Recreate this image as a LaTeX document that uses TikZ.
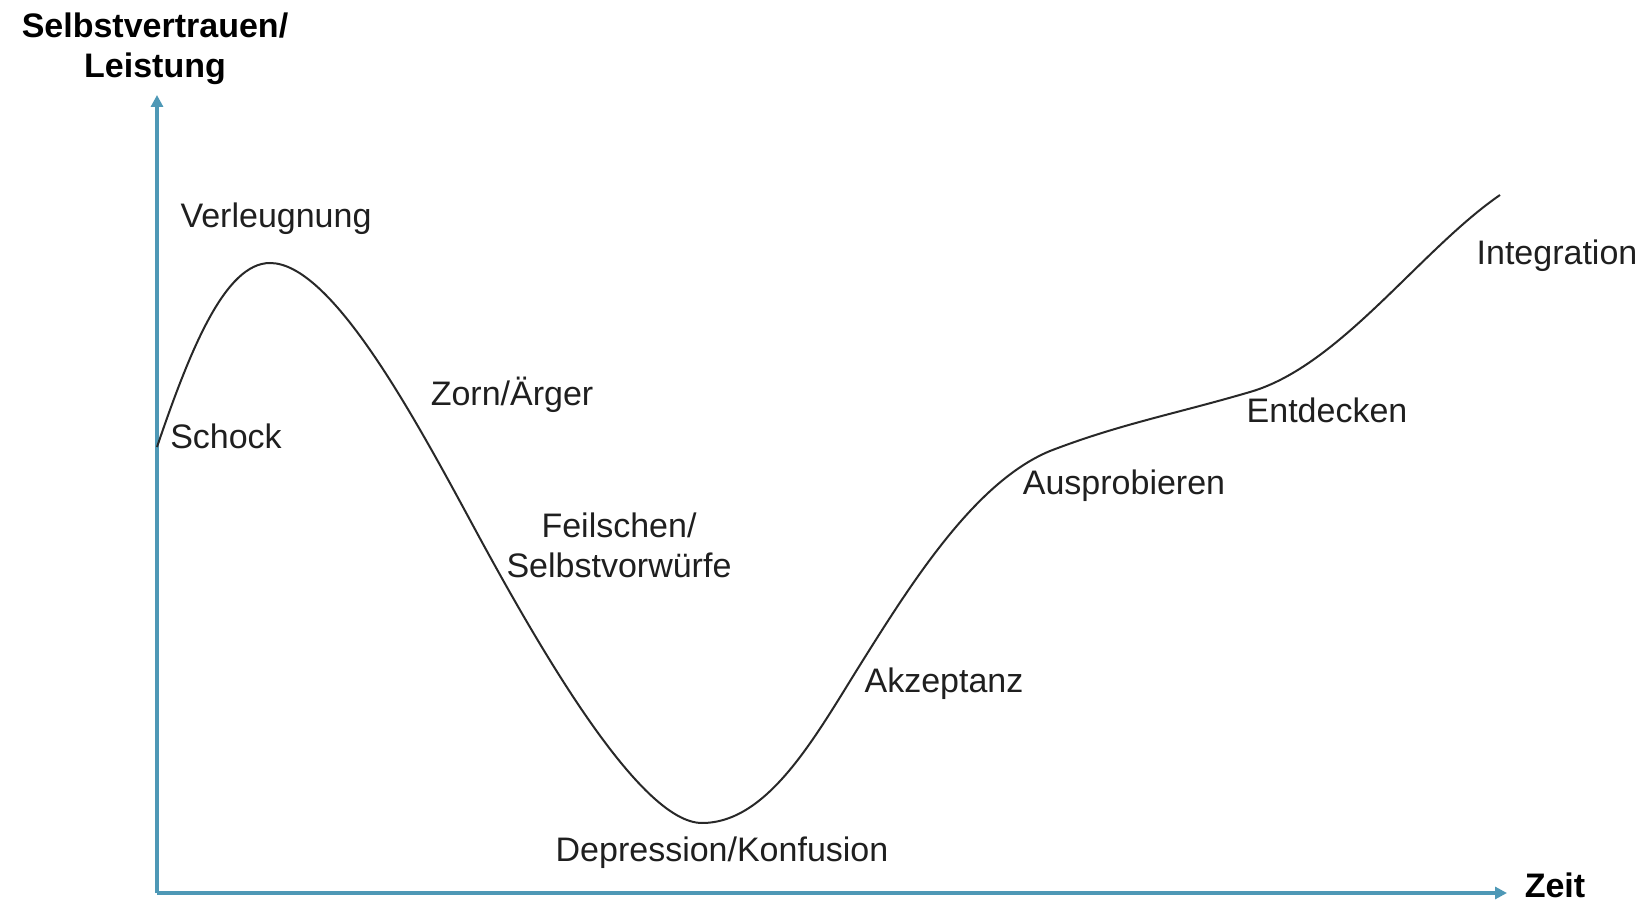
\documentclass[tikz,border=0pt]{standalone}
\usepackage{fontspec}
\setmainfont{Liberation Sans}
\usetikzlibrary{arrows.meta}
\definecolor{axisblue}{RGB}{78,152,182}
\definecolor{curvegray}{RGB}{40,40,40}
\begin{document}
\begin{tikzpicture}[x=0.5pt,y=-0.5pt,
  axisline/.style={draw=axisblue,line width=1.6pt,-{Triangle[length=6pt,width=6pt]}},
  phase/.style={font=\fontsize{17}{20}\selectfont,inner sep=0pt,anchor=base,align=center,text=black!88},
  axislabel/.style={font=\bfseries\fontsize{17}{20}\selectfont,inner sep=0pt,anchor=base,align=center}]
\useasboundingbox (0,0) rectangle (1645,908);

% axes
\coordinate (origin) at (157,893);
\coordinate (ytip) at (157,95);
\coordinate (xtip) at (1507,893);
\draw[axisline] (origin) -- (ytip);
\draw[axisline] (origin) -- (xtip);
% multi-line nodes sit on the baseline of their last line
\node[axislabel] (ylab) at (155,78) {Selbstvertrauen/\\Leistung};
\node[axislabel] (xlab) at (1555,898) {Zeit};

% change curve
\coordinate (c0) at (157,447);
\coordinate (c1) at (270,263);
\coordinate (c2) at (470,520);
\coordinate (c3) at (702,823);
\coordinate (c4) at (860,665);
\coordinate (c5) at (1050,451);
\coordinate (c6) at (1250,392);
\coordinate (c7) at (1500,195);
\draw[curvegray,line width=1pt]
  (c0) .. controls (190,350) and (225,263) .. (c1)
       .. controls (330,263) and (410,409) .. (c2)
       .. controls (540,650) and (640,823) .. (c3)
       .. controls (768,823) and (815,737) .. (c4)
       .. controls (912,582) and (975,482) .. (c5)
       .. controls (1120,424) and (1175,414) .. (c6)
       .. controls (1340,366) and (1420,250) .. (c7);

% phases
\node[phase] (schock) at (226,449) {Schock};
\node[phase] (verl) at (276,228) {Verleugnung};
\node[phase] (zorn) at (512,406) {Zorn/Ärger};
\node[phase] (feil) at (619,578) {Feilschen/\\Selbstvorwürfe};
\node[phase] (depr) at (722,862) {Depression/Konfusion};
\node[phase] (akz) at (944,693) {Akzeptanz};
\node[phase] (aus) at (1124,495) {Ausprobieren};
\node[phase] (entd) at (1327,423) {Entdecken};
\node[phase] (integ) at (1557,265) {Integration};
\end{tikzpicture}
\end{document}
